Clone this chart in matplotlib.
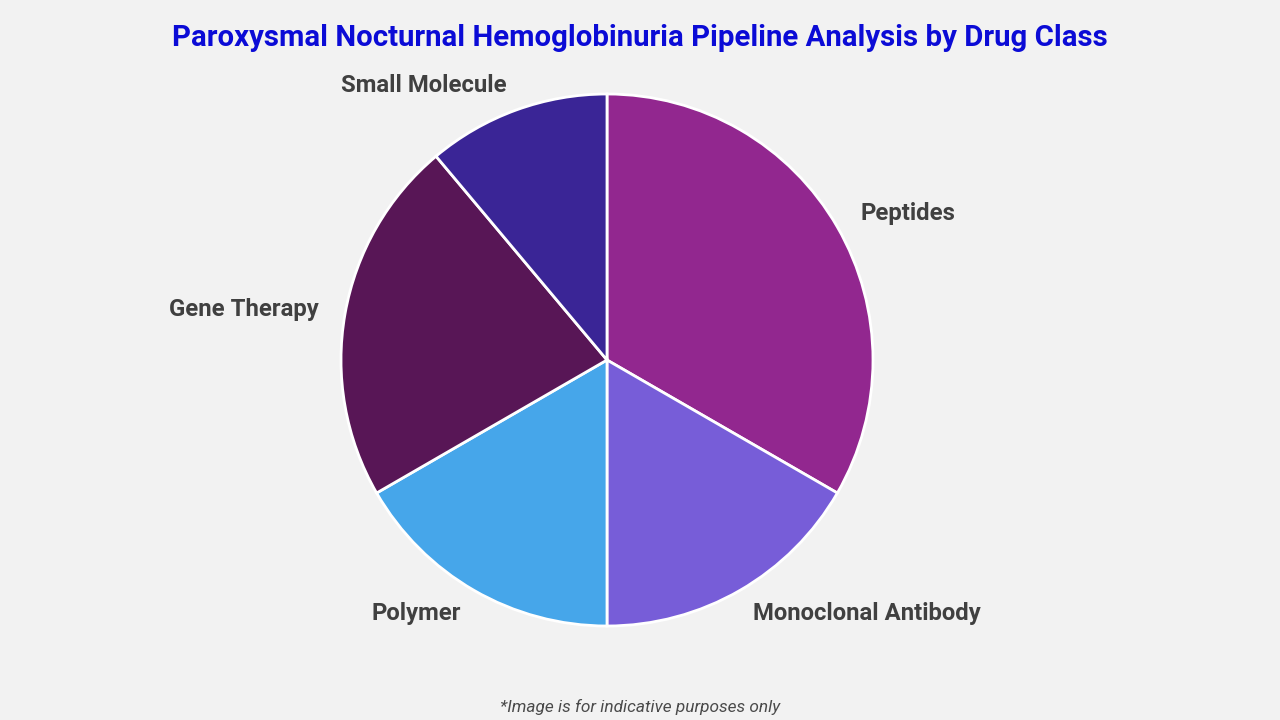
import matplotlib
matplotlib.use("Agg")
import matplotlib.pyplot as plt

categories = ["Peptides", "Monoclonal Antibody", "Polymer", "Gene Therapy", "Small Molecule"]
values = [6, 3, 3, 4, 2]
colors = ["#92278F", "#775DD8", "#46A6EA", "#581656", "#3A2596"]

title = "Paroxysmal Nocturnal Hemoglobinuria Pipeline Analysis by Drug Class"
footnote = "*Image is for indicative purposes only"

plt.rcParams['font.family'] = ['Roboto', 'DejaVu Sans']
bg = "#F2F2F2"
fig = plt.figure(figsize=(12.8, 7.2), dpi=100, facecolor=bg)

R = 266
cx, cy = 607, 360
ax = fig.add_axes([(cx - R) / 1280, (720 - cy - R) / 720, 2 * R / 1280, 2 * R / 720])
ax.set_facecolor(bg)
wedges, texts = ax.pie(values, labels=categories, colors=colors, startangle=90,
                       counterclock=False, labeldistance=1.1,
                       wedgeprops=dict(edgecolor="white", linewidth=2),
                       textprops=dict(fontsize=17.2, fontweight="bold", color="#404040"))
ax.set_xlim(-1, 1)
ax.set_ylim(-1, 1)
ax.set_aspect("equal")
ax.axis("off")

fig.text(640 / 1280, 1 - 37.5 / 720, title, ha="center", va="center",
         fontsize=21.15, fontweight="bold", color="#0B0BD6")
fig.text(640 / 1280, 1 - 707 / 720, footnote, ha="center", va="center",
         fontsize=12.4, fontstyle="italic", color="#4A4A4A")

fig.savefig("out.png", dpi=100, facecolor=bg)
